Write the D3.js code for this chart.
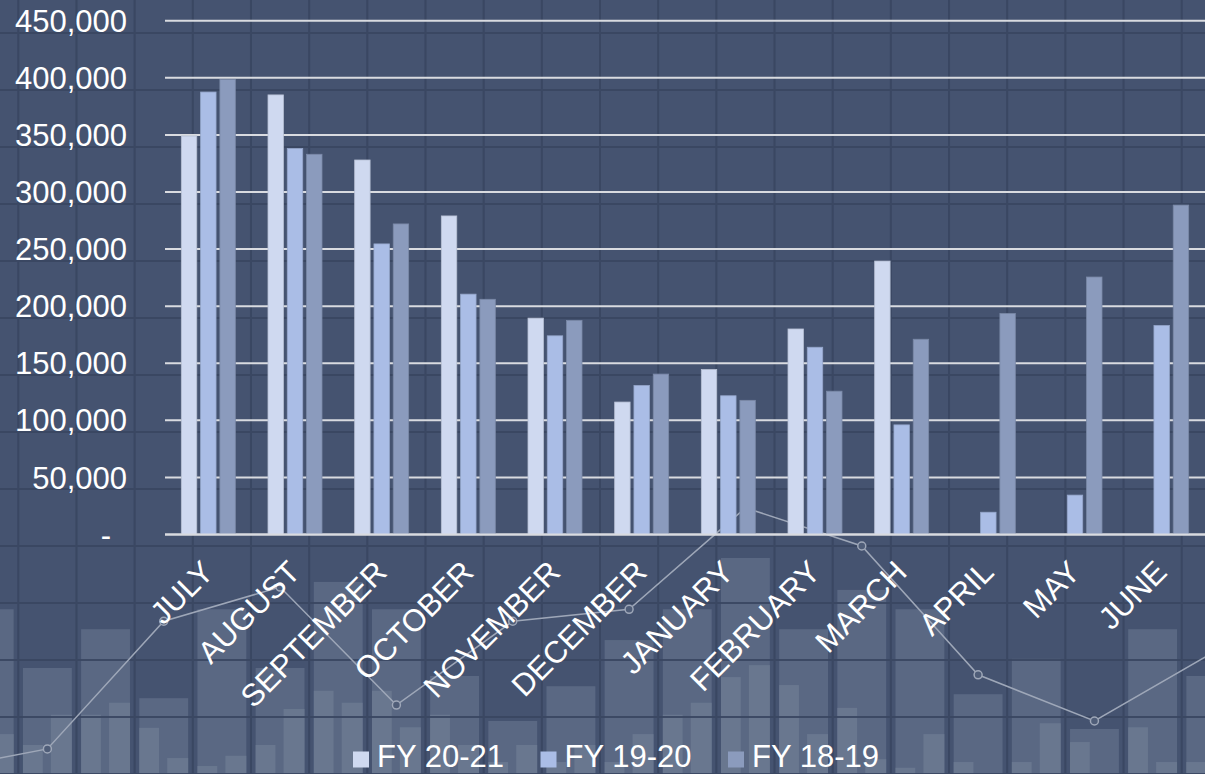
<!DOCTYPE html>
<html>
<head>
<meta charset="utf-8">
<script src="https://cdn.jsdelivr.net/npm/d3@7"></script>
<style>
  html, body { margin: 0; padding: 0; background: #455370; overflow: hidden; }
  svg { display: block; }
  text { font-family: "Liberation Sans", Arial, sans-serif; fill: #ffffff; }
</style>
</head>
<body>
<svg id="chart" width="1205" height="774"></svg>
<script>
// ---- Monthly totals by financial year ----
const months = ["JULY", "AUGUST", "SEPTEMBER", "OCTOBER", "NOVEMBER", "DECEMBER",
                "JANUARY", "FEBRUARY", "MARCH", "APRIL", "MAY", "JUNE"];
const seriesNames = ["FY 20-21", "FY 19-20", "FY 18-19"];
const fy2021 = [349000, 385000, 328000, 279000, 189500, 116000, 144500, 180000, 239500, null, null, null];
const fy1920 = [387500, 338000, 254500, 210500, 174000, 130500, 121500, 164000, 96000, 19500, 34500, 183000];
const fy1819 = [398500, 333000, 272000, 206000, 187500, 140500, 117500, 125500, 171000, 193500, 225500, 288500];
const yTicks = [0, 50000, 100000, 150000, 200000, 250000, 300000, 350000, 400000, 450000];
const seriesColors = ["#cfd9f0", "#aabde6", "#8b9bbd"];

// ---- Faded backdrop chart (column index -1 .. 20) ----
const backdropColumns = d3.range(-1, 21);
const backdropWide  = [28.9, 18.6, 25.4, 13.3, 28.9, 18.6, 33.7, 28.9, 17.2, 9.3, 15.4, 23.5,
                       28.9, 37.9, 25.4, 32.3, 28.9, 14.0, 20.2, 7.9, 25.4, 17.2];
const backdropLeft  = [10.0, 5.1, 10.4, 8.1, 1.4, 5.1, 14.6, 14.6, 10.4, 2.1, 2.1, 2.1,
                       10.4, 17.0, 15.6, 11.6, 1.1, 2.1, 2.1, 5.6, 8.2, 2.1];
const backdropRight = [7.0, 10.4, 12.5, 2.8, 3.2, 11.4, 12.5, 8.2, 5.1, 5.1, 5.1, 7.0,
                       12.5, 19.1, 7.0, 2.6, 7.0, 0, 8.9, 0, 2.1, 7.0];
const trendColumns = [-2, 0, 2, 4, 6, 8, 10, 12, 14, 16, 18, 20];
const trendValues  = [0.5, 4.4, 26.8, 32.8, 12.1, 26.8, 28.9, 46.7, 40.0, 17.4, 9.3, 21.1];

const W = 1205, H = 774;
const svg = d3.select("#chart");

svg.append("rect").attr("width", W).attr("height", H).attr("fill", "#455370");

// backdrop scales
const bgX = d3.scaleLinear().domain([0, 1]).range([18.3, 76.47]);
const bgY = d3.scaleLinear().domain([0, 10]).range([H, H - 57]);

const backdrop = svg.append("g");
backdropColumns.forEach((c, i) => {
  backdrop.append("rect")
    .attr("x", bgX(c + 0.08)).attr("width", bgX(c + 0.92) - bgX(c + 0.08))
    .attr("y", bgY(backdropWide[i])).attr("height", bgY(0) - bgY(backdropWide[i]))
    .attr("fill", "#5a6883");
  backdrop.append("rect")
    .attr("x", bgX(c + 0.08)).attr("width", bgX(c + 0.42) - bgX(c + 0.08))
    .attr("y", bgY(backdropLeft[i])).attr("height", bgY(0) - bgY(backdropLeft[i]))
    .attr("fill", "#69778f");
  backdrop.append("rect")
    .attr("x", bgX(c + 0.56)).attr("width", bgX(c + 0.92) - bgX(c + 0.56))
    .attr("y", bgY(backdropRight[i])).attr("height", bgY(0) - bgY(backdropRight[i]))
    .attr("fill", "#69778f");
});

// backdrop grid
const grid = svg.append("g").attr("stroke", "#394661").attr("stroke-width", 2).attr("opacity", 0.9);
d3.range(-1, 22).forEach(c => {
  grid.append("line").attr("x1", bgX(c)).attr("x2", bgX(c)).attr("y1", 0).attr("y2", H);
});
d3.range(0, 150, 10).forEach(v => {
  grid.append("line").attr("x1", 0).attr("x2", W).attr("y1", bgY(v)).attr("y2", bgY(v));
});

// backdrop trend line
const trendPts = trendColumns.map((c, i) => [bgX(c + 0.5), bgY(trendValues[i])]);
svg.append("path")
  .attr("d", d3.line()(trendPts))
  .attr("fill", "none").attr("stroke", "#9ea7b8").attr("stroke-width", 1.5);
svg.append("g").selectAll("circle").data(trendPts).join("circle")
  .attr("cx", d => d[0]).attr("cy", d => d[1]).attr("r", 4)
  .attr("fill", "#4f5d78").attr("stroke", "#9ea7b8").attr("stroke-width", 1.5);

// ---- main chart scales ----
const x0 = d3.scaleBand().domain(months).range([165, W]);
const x1 = d3.scaleBand().domain(seriesNames).range([-27, 27]).paddingInner(0.2);
const y = d3.scaleLinear().domain([0, 450000]).range([534.5, 20.7]);
const color = d3.scaleOrdinal().domain(seriesNames).range(seriesColors);

// value gridlines
svg.append("g").selectAll("line").data(yTicks).join("line")
  .attr("x1", 165).attr("x2", W)
  .attr("y1", d => y(d)).attr("y2", d => y(d))
  .attr("stroke", "#d9dbe0").attr("stroke-width", 2);

// bars
const seriesData = [fy2021, fy1920, fy1819];
const barsG = svg.append("g");
seriesNames.forEach((s, si) => {
  const rows = months.map((m, mi) => ({ m, v: seriesData[si][mi] })).filter(d => d.v != null);
  barsG.append("g").selectAll("rect").data(rows).join("rect")
    .attr("x", d => x0(d.m) + x0.bandwidth() / 2 + x1(s))
    .attr("width", x1.bandwidth())
    .attr("y", d => y(d.v))
    .attr("height", d => y(0) - y(d.v))
    .attr("fill", color(s))
    .attr("stroke", d3.color(color(s)).darker(0.35))
    .attr("stroke-width", 0.8);
});

// baseline
svg.append("line").attr("x1", 165).attr("x2", W).attr("y1", y(0)).attr("y2", y(0))
  .attr("stroke", "#d9dbe0").attr("stroke-width", 2);

// value axis labels
const fmt = d3.format(",");
svg.append("g").selectAll("text").data(yTicks).join("text")
  .attr("x", d => d === 0 ? 111 : 127)
  .attr("y", d => y(d))
  .attr("dy", "0.36em")
  .attr("text-anchor", "end")
  .attr("font-size", 31)
  .text(d => d === 0 ? "-" : fmt(d));

// month labels
svg.append("g").selectAll("text").data(months).join("text")
  .attr("transform", m => `translate(${x0(m) + x0.bandwidth() / 2 + 7},574) rotate(-45)`)
  .attr("text-anchor", "end")
  .attr("font-size", 31)
  .text(m => m);

// legend
const legend = svg.append("g");
seriesNames.forEach((s, i) => {
  const lx = 353 + i * 187.5;
  legend.append("rect").attr("x", lx).attr("y", 751.5).attr("width", 16).attr("height", 16)
    .attr("fill", color(s));
  legend.append("text").attr("x", lx + 24).attr("y", 767).attr("font-size", 31).text(s);
});
</script>
</body>
</html>
